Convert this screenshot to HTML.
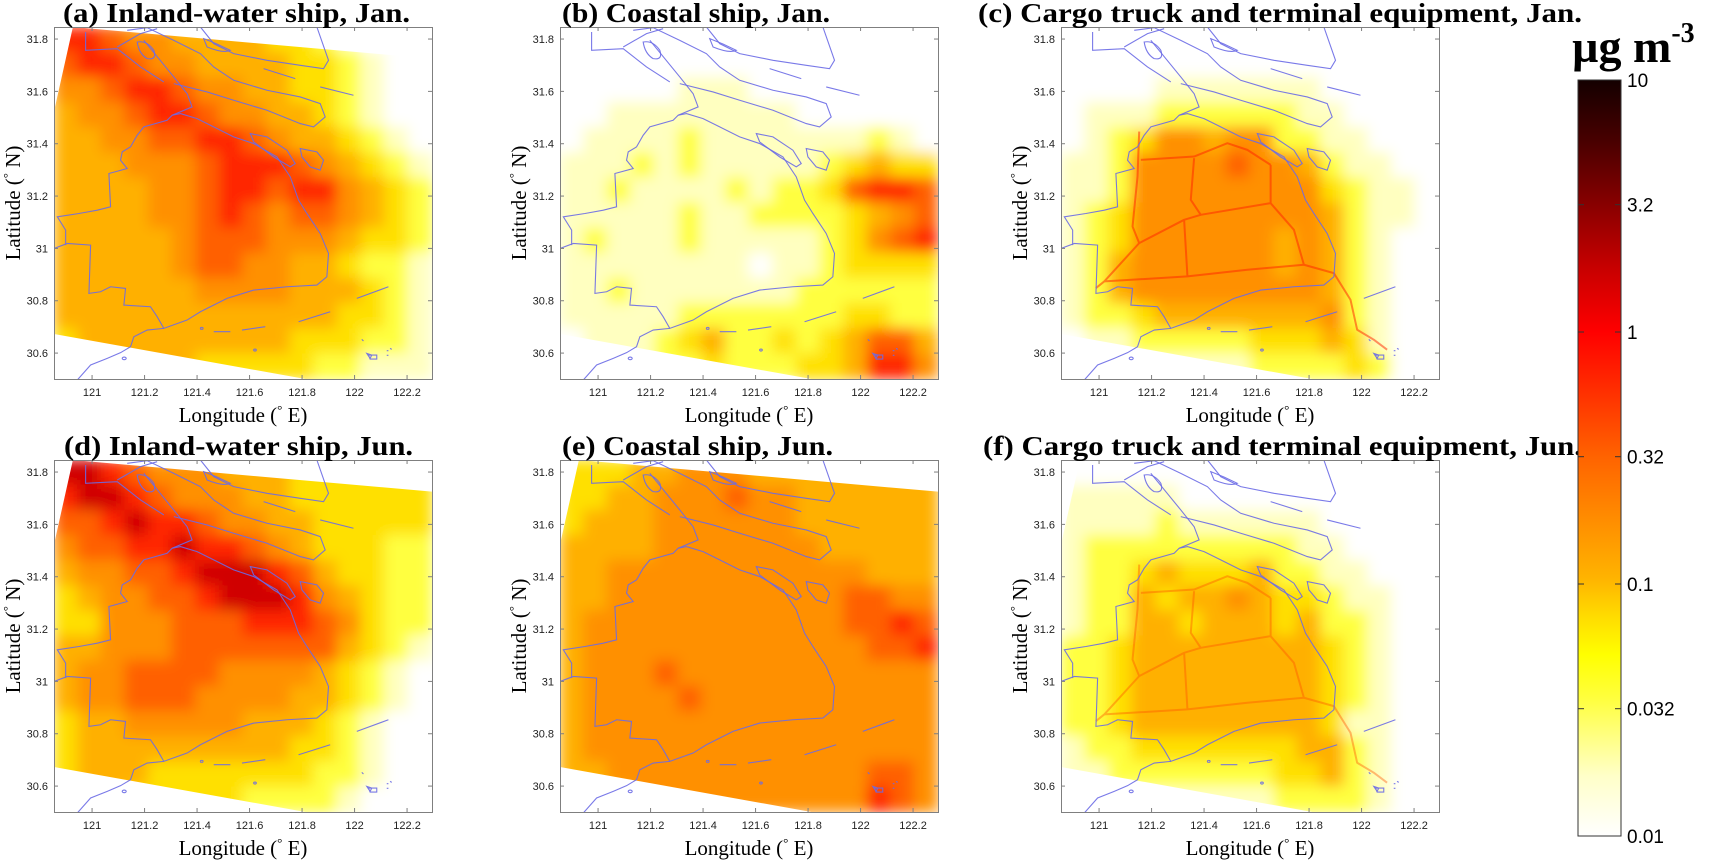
<!DOCTYPE html>
<html><head><meta charset="utf-8">
<style>
html,body{margin:0;padding:0;background:#fff;}
svg{display:block;}
.tk{font-family:"Liberation Sans",sans-serif;font-size:11px;fill:#222;}
.ttl{font-family:"Liberation Serif",serif;font-weight:bold;font-size:27px;fill:#000;}
.axl{font-family:"Liberation Serif",serif;font-size:21px;fill:#000;}
.cbt{font-family:"Liberation Sans",sans-serif;font-size:19px;fill:#000;}
</style></head>
<body>
<svg id="fig" width="1710" height="862" viewBox="0 0 1710 862" xmlns="http://www.w3.org/2000/svg">
<defs>
<filter id="blur" x="-5%" y="-5%" width="110%" height="110%"><feGaussianBlur stdDeviation="7" edgeMode="duplicate"/></filter>
<linearGradient id="cbgrad" x1="0" y1="1" x2="0" y2="0">
<stop offset="0" stop-color="#ffffff"/><stop offset="0.08" stop-color="#ffffc8"/>
<stop offset="0.18" stop-color="#ffff40"/><stop offset="0.24" stop-color="#ffff00"/>
<stop offset="0.29" stop-color="#ffdc00"/><stop offset="0.34" stop-color="#ffb400"/>
<stop offset="0.42" stop-color="#ff8c00"/><stop offset="0.5" stop-color="#ff6400"/>
<stop offset="0.6" stop-color="#ff2800"/><stop offset="0.667" stop-color="#ff0000"/>
<stop offset="0.75" stop-color="#c80000"/><stop offset="0.833" stop-color="#8a0000"/>
<stop offset="0.92" stop-color="#480000"/><stop offset="1" stop-color="#140000"/>
</linearGradient>
</defs>
</svg>
<script>
// ---- data ----
const panelTitles = ["(a) Inland-water ship, Jan.","(b) Coastal ship, Jan.","(c) Cargo truck  and terminal equipment, Jan.","(d) Inland-water ship, Jun.","(e) Coastal ship, Jun.","(f) Cargo truck and terminal equipment, Jun."];
const lonTicks = [121,121.2,121.4,121.6,121.8,122,122.2];
const latTicks = [30.6,30.8,31,31.2,31.4,31.6,31.8];
const cbValues = [0.01,0.032,0.1,0.32,1,3.2,10];
const cbLabels = ["0.01","0.032","0.1","0.32","1","3.2","10"];
// concentration level grids (0=0.01 white ... 9=~5 dark red), 16 cols x 14 rows
const gridA = [
"7765544443321000","6776554444332100","5567765544332100","4556776554432100",
"4455667765443210","4445556777654321","4444556776775432","4444556765665432",
"4444456665554332","4444456655443221","4444445555444321","4444444444443321",
"3444444444333221","3344443333322111"];
const gridB = [
"0000000000000000","0000000000000000","0000011100000000","0011111111000000",
"0111121111111210","1112121111123433","1121111212236776","1111121122223456",
"1211121111123567","1111111101123333","1121111111222222","1111122222223322",
"0111234223234664","0011223222334775"];
const gridC = [
"0000000000000000","0000000000000000","0000111111100000","0111222222110000",
"0123554552211000","1125555655421100","1125555555532110","1235555555542110",
"1235555554542100","1245555554542100","1245555555542100","1223444444452100",
"0112222233343100","0011111122223200"];
const gridD = [
"8876555444333333","7887655544333333","6678776554433333","5667787765433322",
"4556678887643322","3455667888754322","3355566677765322","4455566666664321",
"4556666555543210","4556665555443210","3445555544432100","3444444444332100",
"3444333333322100","4443333322221000"];
const gridE = [
"3334455544444444","3344555655444444","3444555555444444","4444555555544444",
"4455555555555444","4455555555556655","4555555555556676","4555555555555667",
"4555655555555555","4555565555555555","4555555555555555","4555555555555555",
"4455555555555665","4445555555555765"];
const gridF = [
"0000000000000000","1111100000000000","1111211111100000","1222222222110000",
"1223433342211000","1224344543321100","1224434443422100","2234444444432100",
"2234444444432100","2234444444432100","2234444444431100","1223333333442100",
"1122222223342100","1111111112222100"];
const grids = [gridA,gridB,gridC,gridD,gridE,gridF];
const palette = ["#ffffff","#ffffc0","#ffff40","#ffe000","#ffb000","#ff9000","#ff6000","#ff2800","#d00000","#600000"];

// ---- layout ----
const NS="http://www.w3.org/2000/svg";
const svg=document.getElementById('fig');
const colX=[54,560,1061], rowY=[27,460], W=378, H=352;
const lonMin=120.855, lonMax=122.295, latMin=30.501, latMax=31.846;
const titleSpan=[[63,410],[562,830],[978,1582],[64,413],[562,833],[983,1582]];
function xs(lon,x0){return x0+(lon-lonMin)/(lonMax-lonMin)*W;}
function ys(lat,y0){return y0+(latMax-lat)/(latMax-latMin)*H;}
function mk(tag,attrs,parent){const e=document.createElementNS(NS,tag);for(const k in attrs)e.setAttribute(k,attrs[k]);(parent||svg).appendChild(e);return e;}

const coast=[
"M160,745 L200,730 L270,735 L265,880 L300,875 L330,860 L375,865 L370,915 L450,920 L470,950 L490,985 L560,960 L600,935 L680,895 L760,870 L860,860 L950,855 L980,830 L985,760 L960,700 L920,640 L895,600 L870,530 L830,470 L760,430 L700,410 L640,380 L590,355 L540,340 L515,345 L500,360 L430,380 L410,405 L390,440 L365,455 L360,480 L380,505 L325,520 L330,620 L290,630 L235,640 L170,650 L195,690 L195,735",
"M255,95 L255,150 L350,145 L420,200 L490,245",
"M350,140 L420,100 L470,85 M430,120 L520,230 L560,280 L575,320 L515,345",
"M380,90 L440,82 L520,120 L600,160 L640,200 L700,240 L800,270 L900,290 L960,310 L975,350 L940,380 L900,370 L800,330 L700,300 L620,275 L520,250",
"M600,80 L640,130 L700,160 L800,180 L900,195 L970,205 L985,180 L950,80",
"M750,400 L800,410 L860,450 L885,490 L870,500 L820,470 L760,425 Z",
"M900,445 L950,455 L970,480 L960,510 L930,500 L905,470 Z",
"M410,125 Q440,120 460,150 Q470,180 440,175 Q415,160 410,125 Z",
"M610,115 Q650,130 690,150 Q670,160 620,140 Z",
"M790,205 L885,235 M960,260 L1060,285 M1070,895 L1165,860 M895,965 L990,935 M725,990 L795,980 M640,995 L690,995",
"M230,1140 L270,1095 L320,1075 L360,1058 L390,1040 L400,1010 L440,990 L490,985",
"M1100,1060 l15,5 l-5,10 z M1105,1065 l25,0 l0,12 l-20,0 z M1160,1052 l5,0 M1160,1066 l5,0 M1085,1018 l5,5 M1170,1045 l5,3",
"M365,1075 a6,4 0 1,0 12,0 a6,4 0 1,0 -12,0 M600,985 a4,3 0 1,0 8,0 a4,3 0 1,0 -8,0 M760,1050 a4,3 0 1,0 8,0 a4,3 0 1,0 -8,0"
];
const roads="M395,394 L390,529 L375,679 L395,729 L290,844 L265,864 M400,479 L560,469 L660,429 L720,449 L790,494 M560,474 L550,599 L580,644 L790,609 L790,494 M395,729 L530,659 L580,644 M530,659 L540,829 M290,844 L540,829 L720,809 L890,794 L980,819 L1030,899 L1050,989 L1100,1019 L1140,1049 M790,609 L860,689 L890,794";

for(let p=0;p<6;p++){
  const x0=colX[p%3], y0=rowY[Math.floor(p/3)];
  const g=mk('g',{});
  
  
  const cid='clip'+p;
  const cp=mk('clipPath',{id:cid},g);
  mk('polygon',{points:[[x0+0.05*W,y0],[x0+W,y0+0.09*H],[x0+W,y0+H],[x0+0.665*W,y0+H],[x0,y0+0.872*H],[x0,y0+0.24*H]].map(a=>a.join(',')).join(' ')},cp);
  const rc=mk('clipPath',{id:'rc'+p},g);
  mk('rect',{x:x0,y:y0,width:W,height:H},rc);
  const hg=mk('g',{'clip-path':'url(#'+cid+')'},g);
  const hm=mk('g',{filter:'url(#blur)'},hg);
  
  
  const grid=grids[p], rows=grid.length, cols=grid[0].length;
  const cw=W/cols, ch=H/rows;
  for(let r=0;r<rows;r++)for(let c=0;c<cols;c++){
    const v=+grid[r][c];
    const cell=mk('rect',{x:x0+c*cw-0.5,y:y0+r*ch-0.5,width:cw+1,height:ch+1,fill:palette[v]},hm);
    
    
  }
  const tr='translate('+x0+','+y0+') scale('+(W/1136)+','+(H/1057)+') translate(-160,-80)';
  if(p===2||p===5){
    const rg=mk('g',{'clip-path':'url(#'+cid+')'},g);
    const rp=mk('path',{d:roads,transform:tr,fill:'none',stroke:p===2?'#ff2000':'#ff5000','stroke-opacity':p===2?0.5:0.4,'stroke-width':2,'vector-effect':'non-scaling-stroke','stroke-linejoin':'round'},rg);
    
    
  }
  const cg=mk('g',{'clip-path':'url(#rc'+p+')'},g);
  const cgi=mk('g',{transform:tr},cg);
  
  
  coast.forEach(d=>mk('path',{d:d,fill:'none',stroke:'#6a6ae6','stroke-width':1.1,'vector-effect':'non-scaling-stroke','stroke-opacity':0.9},cgi));
  const box=mk('rect',{x:x0+0.5,y:y0+0.5,width:W,height:H,fill:'none',stroke:'#7f7f7f','stroke-width':1},g);
  
  
  lonTicks.forEach(lon=>{
    const x=xs(lon,x0);
    mk('line',{x1:x,x2:x,y1:y0+H,y2:y0+H-4,stroke:'#7f7f7f'},g);
    mk('line',{x1:x,x2:x,y1:y0,y2:y0+4,stroke:'#7f7f7f'},g);
    const t=mk('text',{x:x,y:y0+H+17,'text-anchor':'middle',class:'tk'},g);
    t.textContent=String(lon);
    
    
  });
  latTicks.forEach(lat=>{
    const y=ys(lat,y0);
    mk('line',{x1:x0,x2:x0+4,y1:y,y2:y,stroke:'#7f7f7f'},g);
    mk('line',{x1:x0+W,x2:x0+W-4,y1:y,y2:y,stroke:'#7f7f7f'},g);
    const t=mk('text',{x:x0-6,y:y+4,'text-anchor':'end',class:'tk'},g);
    t.textContent=String(lat);
    
    
  });
  const xl=mk('text',{x:x0+W/2,y:y0+H+43,'text-anchor':'middle',class:'axl'},g);
  xl.innerHTML='Longitude (<tspan font-size="13" dy="-8">°</tspan><tspan dy="8"> E)</tspan>';
  
  
  const yl=mk('text',{x:0,y:0,'text-anchor':'middle',class:'axl',transform:'translate('+(x0-34)+','+(y0+H/2)+') rotate(-90)'},g);
  yl.innerHTML='Latitude (<tspan font-size="13" dy="-8">°</tspan><tspan dy="8"> N)</tspan>';
  
  
  const ts=titleSpan[p];
  const tt=mk('text',{x:ts[0],y:y0-5,class:'ttl',textLength:ts[1]-ts[0],lengthAdjust:'spacingAndGlyphs'},g);
  tt.textContent=panelTitles[p];
  
  
}
// colorbar
const cbX=1578,cbW=43,cbTop=80,cbBot=836;
const cb=mk('g',{});


mk('rect',{x:cbX,y:cbTop,width:cbW,height:cbBot-cbTop,fill:'url(#cbgrad)',stroke:'#333','stroke-width':1},cb);
function cy(v){return cbBot-(Math.log10(v)+2)/3*(cbBot-cbTop);}
cbValues.forEach((v,i)=>{
  const y=cy(v);
  if(i>0&&i<cbValues.length-1){
    mk('line',{x1:cbX,x2:cbX+6,y1:y,y2:y,stroke:'#333'},cb);
    mk('line',{x1:cbX+cbW,x2:cbX+cbW-6,y1:y,y2:y,stroke:'#333'},cb);
  }
  const t=mk('text',{x:cbX+cbW+6,y:y+7,class:'cbt'},cb);
  t.textContent=cbLabels[i];
  
  
});
const ut=mk('text',{x:1572,y:62,style:'font-family:"Liberation Serif",serif;font-weight:bold;font-size:46px'},cb);
ut.innerHTML='µg m<tspan font-size="28" dy="-20">-3</tspan>';


</script>
</body></html>
